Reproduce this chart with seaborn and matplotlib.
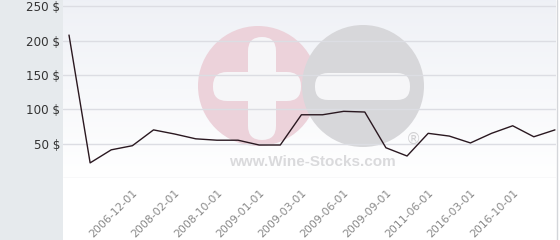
import numpy as np
import matplotlib
matplotlib.use("Agg")
import matplotlib.pyplot as plt
import matplotlib.transforms as mtransforms
from matplotlib.patches import Circle, FancyBboxPatch, Rectangle
import seaborn as sns
import pandas as pd

# ---- data ----
prices = [208, 22, 41, 47, 70, 64, 57, 55, 55, 48, 48, 92, 92, 97, 96, 44, 32, 65, 61, 51, 65, 76, 60, 70]
tick_labels = ["2006-12-01", "2008-02-01", "2008-10-01", "2009-01-01", "2009-03-01",
               "2009-06-01", "2009-09-01", "2011-06-01", "2016-03-01", "2016-10-01"]
y_ticks = [50, 100, 150, 200, 250]

df = pd.DataFrame({"i": np.arange(len(prices)), "price": prices})

sns.set_style("white")
plt.rcParams['font.family'] = ['DejaVu Sans']

W, H = 560, 240
fig = plt.figure(figsize=(W / 100, H / 100), dpi=100)
fig.patch.set_facecolor("white")

# background / watermark axes in pixel coords
bg = fig.add_axes([0, 0, 1, 1], zorder=0)
bg.set_xlim(0, W)
bg.set_ylim(H, 0)
bg.axis("off")
bg.add_patch(Rectangle((0, 0), 63, H, color="#e6eaed", lw=0))
grad = np.linspace(0, 1, 100)
top = np.array([0.937, 0.945, 0.965])
bot = np.array([1.0, 1.0, 1.0])
img = top[None, None, :] + (bot - top)[None, None, :] * grad[:, None, None]
img = np.repeat(img, 2, axis=1)
bg.imshow(img, extent=(63, 556, 178, 0), aspect="auto", zorder=1)
bg.plot([556.5, 556.5], [0, H], color="#d4d6da", lw=1, zorder=4)

# watermark
pink = "#ecd2da"
grey = "#d7d7da"
wm = "#f6f6f8"
bg.add_patch(Circle((258, 86), 60, color=pink, lw=0, zorder=2))
bg.add_patch(Circle((363, 86), 61, color=grey, lw=0, zorder=2))
bg.add_patch(FancyBboxPatch((248, 37), 28, 103, boxstyle="round,pad=0,rounding_size=14",
                            color=wm, lw=0, zorder=3))
bg.add_patch(FancyBboxPatch((213, 72), 88, 29, boxstyle="round,pad=0,rounding_size=14",
                            color=wm, lw=0, zorder=3))
bg.add_patch(FancyBboxPatch((315, 73), 95, 27, boxstyle="round,pad=0,rounding_size=13",
                            color=wm, lw=0, zorder=3))
bg.text(312, 162, "www.Wine-Stocks.com", ha="center", va="center", fontsize=11,
        fontweight="bold", color="#dadadc", family="Liberation Sans", zorder=3)
bg.text(413, 139, "®", ha="center", va="center", fontsize=11, color="#d2d2d4", zorder=3)

# main axes
x0, x1 = 63, 556
ax = fig.add_axes([x0 / W, 1 - 178 / H, (x1 - x0) / W, 178 / H], zorder=1)
ax.patch.set_alpha(0)
sns.lineplot(data=df, x="i", y="price", ax=ax, color="#2a1820", lw=1.0, zorder=5)
ax.set_xlim(-0.284, len(prices) - 1 + 0.05)
ax.set_ylim(0, 259)
ax.set_yticks(y_ticks)
ax.set_yticklabels([f"{v} $" for v in y_ticks], fontsize=8.6, color="#333333")
for v in [0] + y_ticks:
    ax.axhline(v, color="#dcdde3", lw=1, zorder=1)
ax.set_xticks(np.arange(3, 3 + 2 * len(tick_labels), 2))
ax.set_xticklabels(tick_labels, rotation=45, ha="right", va="top",
                   rotation_mode="anchor", fontsize=7.8, color="#888888")
off = mtransforms.ScaledTranslation(-2 / 100, 0, fig.dpi_scale_trans)
for lab in ax.get_xticklabels():
    lab.set_transform(lab.get_transform() + off)
ax.tick_params(axis="both", length=0)
ax.tick_params(axis="x", pad=7)
ax.tick_params(axis="y", pad=2)
ax.set_xlabel("")
ax.set_ylabel("")
for s in ax.spines.values():
    s.set_visible(False)

fig.savefig("out.png", dpi=100)
